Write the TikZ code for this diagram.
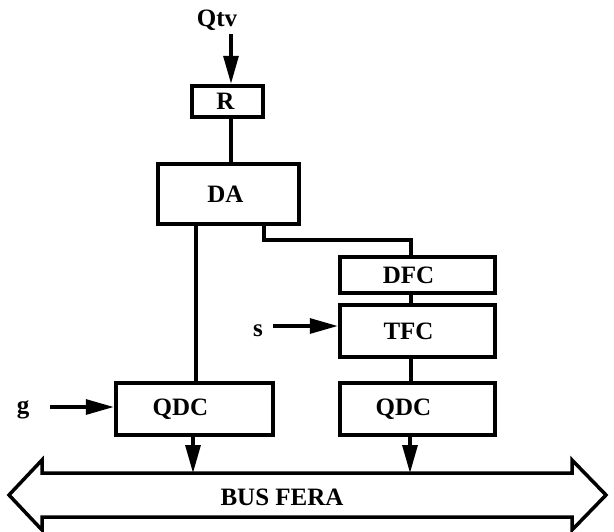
\documentclass[tikz,border=0pt]{standalone}
\usepackage{fontspec}
\setmainfont{Liberation Serif}
\usetikzlibrary{arrows.meta}
\newcommand{\lft}[2]{\hbox{#1\kern#2pt}}
\begin{document}
\begin{tikzpicture}[x=1pt,y=-1pt,
  blk/.style={draw,line width=4.5pt,inner sep=0pt,font=\fontsize{25}{25}\selectfont\bfseries},
  lbl/.style={inner sep=0pt,font=\fontsize{25}{25}\selectfont\bfseries},
  conn/.style={line width=3.2pt},
  arr/.style={line width=3.2pt,-{Triangle[length=28pt,width=15pt]}}]
\useasboundingbox (0,0) rectangle (614,531);
\clip (0,0) rectangle (614,531);
% blocks
\node[blk,minimum width=71pt,minimum height=31pt] (R) at (227.5,101.5) {\lft{R}{4}};
\node[blk,minimum width=141pt,minimum height=60pt] (DA) at (228.5,194) {\lft{DA}{6}};
\node[blk,minimum width=155pt,minimum height=36pt] (DFC) at (417.5,275) {\lft{DFC}{18}};
\node[blk,minimum width=155pt,minimum height=52pt] (TFC) at (417.5,331) {\lft{TFC}{18}};
\node[blk,minimum width=157pt,minimum height=52pt] (QDC1) at (194.5,409) {\lft{QDC}{28}};
\node[blk,minimum width=155pt,minimum height=52pt] (QDC2) at (417.5,409) {\lft{QDC}{28}};
% labels
\node[lbl] (Qtv) at (217,20) {Qtv};
\node[lbl] (s) at (258,331) {s};
\node[lbl] (g) at (23,410) {g};
% helper coordinates
\coordinate (xqtv) at (231,0);
\coordinate (xqtvs) at (231,34);
\coordinate (xl) at (196,0);
\coordinate (xr) at (264,0);
\coordinate (xc) at (411,0);
\coordinate (ystep) at (0,240);
\coordinate (sstart) at (273,326);
\coordinate (gstart) at (50,407);
\coordinate (xa1) at (193,0);
\coordinate (xa2) at (410,0);
\coordinate (bustop) at (0,473);
% bus
\node[lbl] (bus) at (282,497) {BUS FERA};
\draw[line width=3.5pt,line join=miter]
  (42,473) -- (572,473) -- (572,460) -- (606,495) -- (572,530) -- (572,517)
  -- (42,517) -- (42,530) -- (9,495) -- (42,460) -- cycle;
% connectors
\draw[arr] (xqtvs) -- (R.north -| xqtv);
\draw[conn] (R.south -| xqtv) -- (DA.north -| xqtv);
\draw[conn] (DA.south -| xl) -- (QDC1.north -| xl);
\draw[conn] (DA.south -| xr) -- (xr |- ystep) -- (xc |- ystep) -- (DFC.north -| xc);
\draw[conn] (DFC.south -| xc) -- (TFC.north -| xc);
\draw[conn] (TFC.south -| xc) -- (QDC2.north -| xc);
\draw[arr] (sstart) -- (TFC.west |- sstart);
\draw[arr] (gstart) -- (QDC1.west |- gstart);
\draw[arr] (QDC1.south -| xa1) -- (bustop -| xa1);
\draw[arr] (QDC2.south -| xa2) -- (bustop -| xa2);
\end{tikzpicture}
\end{document}
